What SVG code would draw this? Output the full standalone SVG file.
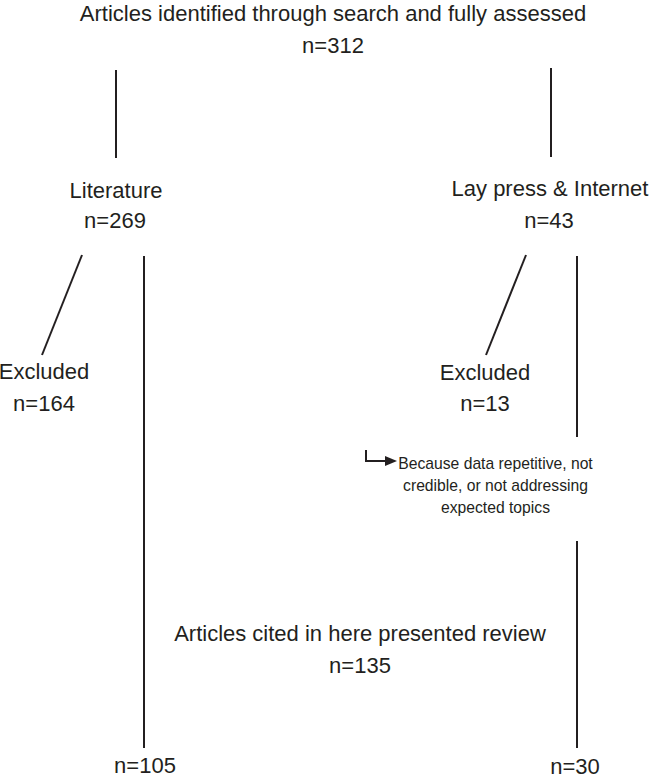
<svg xmlns="http://www.w3.org/2000/svg" width="650" height="778" viewBox="0 0 650 778">
  <defs>
    <style>
      text { font-family: "Liberation Sans", Arial, sans-serif; fill: #231f20; text-anchor: middle; }
      .lbl { font-size: 22px; }
      .note { font-size: 15.7px; }
      .ln { stroke: #231f20; stroke-width: 2; fill: none; }
    </style>
    <marker id="arrow" viewBox="0 0 12 10" refX="0" refY="5" markerWidth="12" markerHeight="10" markerUnits="userSpaceOnUse" orient="auto">
      <path d="M0,0 L12,5 L0,10 Z" fill="#231f20"/>
    </marker>
  </defs>
  <rect width="650" height="778" fill="#ffffff"/>

  <g id="connectors">
    <line class="ln" x1="116" y1="70" x2="116" y2="158"/>
    <line class="ln" x1="551" y1="68" x2="551" y2="157"/>
    <line class="ln" x1="82" y1="255" x2="42" y2="355"/>
    <line class="ln" x1="144" y1="256" x2="144" y2="748"/>
    <line class="ln" x1="526" y1="255" x2="486" y2="355"/>
    <line class="ln" x1="577" y1="256" x2="577" y2="437"/>
    <line class="ln" x1="577" y1="541" x2="577" y2="748"/>
    <path class="ln" d="M366,450 V461 H385" marker-end="url(#arrow)"/>
  </g>

  <g id="node-total">
    <text class="lbl" x="333" y="21">Articles identified through search and fully assessed</text>
    <text class="lbl" x="333" y="53">n=312</text>
  </g>

  <g id="node-literature">
    <text class="lbl" x="116" y="198">Literature</text>
    <text class="lbl" x="115" y="228">n=269</text>
  </g>

  <g id="node-laypress">
    <text class="lbl" x="550" y="196">Lay press &amp; Internet</text>
    <text class="lbl" x="549" y="228">n=43</text>
  </g>

  <g id="node-excluded-lit">
    <text class="lbl" x="44" y="379">Excluded</text>
    <text class="lbl" x="44" y="411">n=164</text>
  </g>

  <g id="node-excluded-lay">
    <text class="lbl" x="485" y="380">Excluded</text>
    <text class="lbl" x="485" y="411">n=13</text>
  </g>

  <g id="node-reason">
    <text class="note" x="495.5" y="468.5">Because data repetitive, not</text>
    <text class="note" x="495.5" y="491">credible, or not addressing</text>
    <text class="note" x="495.5" y="513">expected topics</text>
  </g>

  <g id="node-cited">
    <text class="lbl" x="360" y="641">Articles cited in here presented review</text>
    <text class="lbl" x="360" y="673">n=135</text>
  </g>

  <g id="node-lit-cited">
    <text class="lbl" x="145" y="773">n=105</text>
  </g>

  <g id="node-lay-cited">
    <text class="lbl" x="575" y="774">n=30</text>
  </g>
</svg>
